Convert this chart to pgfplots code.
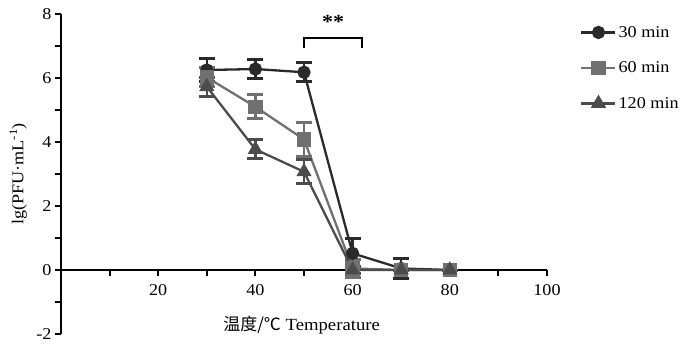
\documentclass[border=0pt]{standalone}
\usepackage{pgfplots}
\pgfplotsset{compat=1.18}
\usepackage{pgfplotstable}
\usepackage{fontspec}
\setmainfont{Liberation Serif}[FakeStretch=1.1]
\newfontfamily\cjk{Noto Sans CJK SC}[FakeStretch=1.0]
\definecolor{c30}{HTML}{2A2A2A}
\definecolor{c60}{HTML}{707070}
\definecolor{c120}{HTML}{4C4C4C}

\pgfplotstableread{
x y e
30 6.25 0.35
40 6.28 0.30
50 6.18 0.30
60 0.52 0.45
70 0.05 0.30
80 0.00 0.00
}\dataA
\pgfplotstableread{
x y e
30 6.02 0.30
40 5.10 0.38
50 4.08 0.52
60 0.05 0.28
70 0.00 0.00
80 0.00 0.00
}\dataB
\pgfplotstableread{
x y e
30 5.73 0.30
40 3.77 0.30
50 3.07 0.37
60 0.00 0.10
70 0.00 0.00
80 0.00 0.00
}\dataC

\begin{document}
\begin{tikzpicture}
\begin{axis}[name=ax, scale only axis, width=486pt, height=320pt,
  xmin=0, xmax=100, ymin=-2, ymax=8, enlargelimits=false, clip=false,
  axis y line=left, axis x line=middle,
  axis line style={-, line width=2pt, black},
  xtick={20,40,60,80,100}, minor xtick={10,30,50,70,90},
  ytick={-2,0,2,4,6,8}, minor ytick={-1,1,3,5,7},
  tick align=outside, major tick length=6pt, minor tick length=6pt,
  tick style={line width=2pt, black},
  minor tick style={line width=2pt, black},
  tick label style={font=\fontsize{16.5}{18}\selectfont},
  xticklabel style={yshift=-5pt},
  /pgf/number format/assume math mode=true,
  legend style={at={(1.062,0.975)}, anchor=north west, draw=none, fill=none,
    font=\fontsize{16.5}{18}\selectfont, row sep=19pt},
  legend cell align=left,
  legend image code/.code={\draw[mark repeat=2,mark phase=2,#1] plot coordinates {(0pt,0pt) (17pt,0pt) (34pt,0pt)};},
  every axis plot/.append style={line width=2.3pt},
  error bars/error bar style={line width=2.5pt},
  error bars/error mark options={rotate=90, mark size=8pt, line width=3pt},
]
\addplot[c30, mark=*, mark size=5.5pt, mark options={solid, fill=c30},
  error bars/.cd, y dir=both, y explicit]
  table[x=x, y=y, y error=e] {\dataA};
\addlegendentry{30 min}
\addplot[c60, mark=square*, mark size=6pt, mark options={solid, fill=c60},
  error bars/.cd, y dir=both, y explicit]
  table[x=x, y=y, y error=e] {\dataB};
\addlegendentry{60 min}
\addplot[c120, mark=triangle*, mark size=6.5pt, mark options={solid, fill=c120},
  error bars/.cd, y dir=both, y explicit]
  table[x=x, y=y, y error=e] {\dataC};
\addlegendentry{120 min}
\draw[black, line width=2pt] (axis cs:50,6.95) -- (axis cs:50,7.25) -- (axis cs:62,7.25) -- (axis cs:62,6.95);
\node[font=\fontsize{20}{22}\selectfont\bfseries] at (axis cs:56,7.75) {**};
\node[font=\fontsize{17}{19}\selectfont] at (axis cs:49.5,-1.72) {{\cjk 温度/℃} Temperature};
\node[rotate=90, font=\fontsize{16.5}{18}\selectfont] at (rel axis cs:-0.088,0.5) {lg(PFU·mL\textsuperscript{-1})};
\end{axis}
\path ([shift={(-61pt,-17pt)}]ax.south west) rectangle ([shift={(153pt,14pt)}]ax.north east);
\end{tikzpicture}
\end{document}
